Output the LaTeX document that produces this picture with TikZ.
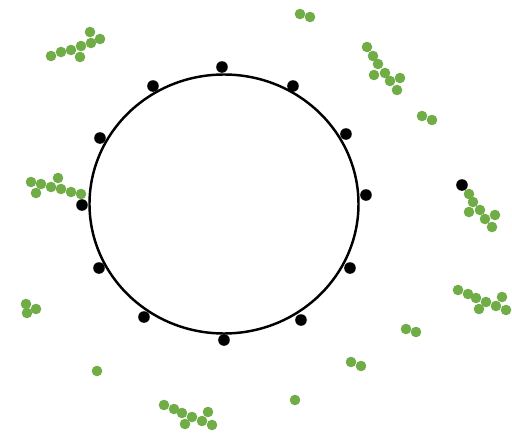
\documentclass[tikz,border=0pt]{standalone}
\usepackage{tikz}
\definecolor{cGreen}{RGB}{112,173,71}
\tikzset{
	ring/.style ={draw=black, line width=1.4pt},
	gdot/.style ={fill=cGreen},
	bdot/.style ={fill=black},
}
\begin{document}
\begin{tikzpicture}[x=0.02cm, y=-0.02cm]
	\useasboundingbox (0,0) rectangle (512,433);
	\draw[ring] (224,204) ellipse [x radius=134.5, y radius=129.5];
	% loose green points
	\foreach \px/\py in {90/32,100/39,91/43,81/46,71/50,61/52,51/56,80/57,
		31/182,41/184,58/178,51/187,61/189,71/192,81/194,36/193,
		300/14,310/17,
		367/47,373/56,378/64,374/75,385/73,390/81,400/78,397/90,
		422/116,432/120,
		469/194,473/202,480/210,469/212,485/219,495/215,492/227,
		458/290,468/294,476/298,486/302,502/297,496/306,479/309,506/310,
		406/329,416/332,351/362,361/366,295/400,97/371,
		26/304,36/309,27/313,
		164/405,174/409,182/413,192/417,202/421,208/412,185/424,212/425}
		\fill[gdot] (\px,\py) circle (5.3);
	% points on the ring
	\foreach \px/\py in {222/67,293/86,346/134,366/195,350/268,301/320,224/340,
		144/317,99/268,82/205,100/138,153/86,462/185}
		\fill[bdot] (\px,\py) circle (5.8);
\end{tikzpicture}
\end{document}
